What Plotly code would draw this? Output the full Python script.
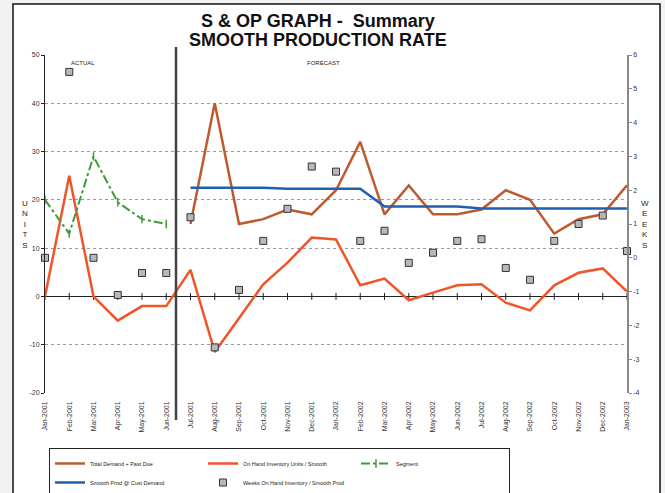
import plotly.graph_objects as go

months = ["Jan-2001", "Feb-2001", "Mar-2001", "Apr-2001", "May-2001", "Jun-2001",
          "Jul-2001", "Aug-2001", "Sep-2001", "Oct-2001", "Nov-2001", "Dec-2001",
          "Jan-2002", "Feb-2002", "Mar-2002", "Apr-2002", "May-2002", "Jun-2002",
          "Jul-2002", "Aug-2002", "Sep-2002", "Oct-2002", "Nov-2002", "Dec-2002",
          "Jan-2003"]

total_demand = [None, None, None, None, None, None,
                15, 40, 15, 16, 18, 17, 22, 32, 17, 23, 17, 17, 18, 22, 20, 13, 16, 17, 23]
smooth_prod = [None, None, None, None, None, None,
               22.5, 22.5, 22.5, 22.5, 22.3, 22.3, 22.3, 22.3, 18.6, 18.6, 18.6, 18.6,
               18.2, 18.2, 18.2, 18.2, 18.2, 18.2, 18.2]
on_hand = [0, 25, 0, -5, -2, -2, 5.5, -11.5, -4.5, 2.5, 7, 12.2, 11.8, 2.3, 3.7, -0.8,
           0.8, 2.3, 2.5, -1.3, -2.9, 2.3, 4.9, 5.8, 1.0]
segment = [20, 13, 29, 19.5, 16, 15] + [None] * 19
weeks = [0, 5.5, 0, -1.1, -0.45, -0.45, 1.2, -2.65, -0.95, 0.5, 1.45, 2.7, 2.55, 0.5,
         0.8, -0.15, 0.15, 0.5, 0.55, -0.3, -0.65, 0.5, 1.0, 1.25, 0.2]

left_ticks = [-20, -10, 0, 10, 20, 30, 40, 50]
left_labels = ["-20", "-10", "0", "10", "20", "30", "40", "50"]
right_ticks = [-4, -3, -2, -1, 0, 1, 2, 3, 4, 5, 6]
right_labels = ["-4", "-3", "-2", "-1", "0", "1", "2", "3", "4", "5", "6"]

FONT = "Liberation Sans, Arial, sans-serif"
BROWN = "#BE5A30"
ORANGE = "#F0552A"
BLUE = "#2060B0"
GREEN = "#3C9C3C"

fig = go.Figure()

# zero-line tick marks
fig.add_trace(go.Scatter(x=months, y=[0] * len(months), mode="markers",
                         marker=dict(symbol="line-ns", size=5, line=dict(color="#222", width=1)),
                         showlegend=False, hoverinfo="skip", cliponaxis=False))

fig.add_trace(go.Scatter(x=months, y=total_demand, mode="lines", name="Total Demand + Past Due",
                         line=dict(color=BROWN, width=2.5), legendrank=1, connectgaps=False))
fig.add_trace(go.Scatter(x=months, y=smooth_prod, mode="lines", name="Smooth Prod @ Cust Demand",
                         line=dict(color=BLUE, width=2.5), legendrank=4))
fig.add_trace(go.Scatter(x=months, y=on_hand, mode="lines", name="On Hand Inventory Units / Smooth",
                         line=dict(color=ORANGE, width=2.5), legendrank=2))
fig.add_trace(go.Scatter(x=months, y=segment, mode="lines+markers", name="Segment",
                         line=dict(color=GREEN, width=2, dash="dashdot"),
                         marker=dict(symbol="line-ns-open", size=6, color=GREEN,
                                     line=dict(color=GREEN, width=1.5)),
                         legendrank=3))
fig.add_trace(go.Scatter(x=months, y=weeks, mode="markers", name="Weeks On Hand Inventory / Smooth Prod",
                         yaxis="y2", cliponaxis=False,
                         marker=dict(symbol="square", size=7, color="#B8B8B8",
                                     line=dict(color="#333", width=1)),
                         legendrank=5))

# paper coordinate helpers (plot area: x 45..627, y 55..393)
def px(x):
    return (x - 45) / 582.0

def py(y):
    return (393 - y) / 338.0

shapes = [
    dict(type="rect", xref="paper", yref="paper", x0=px(13), x1=px(660), y0=py(520), y1=py(4),
         line=dict(color="#111", width=1.5), fillcolor="white", layer="below"),
    dict(type="line", xref="paper", yref="paper", x0=px(176), x1=px(176), y0=py(420), y1=py(47),
         line=dict(color="#444", width=2.5)),
]

annotations = [
    dict(text="<b>S & OP GRAPH -  Summary</b>",
         xref="paper", yref="paper", x=px(318), y=py(21), showarrow=False,
         font=dict(family=FONT, size=18, color="#111"), yanchor="middle"),
    dict(text="<b>SMOOTH PRODUCTION RATE</b>",
         xref="paper", yref="paper", x=px(318), y=py(40), showarrow=False,
         font=dict(family=FONT, size=18, color="#111"), yanchor="middle"),
    dict(text="ACTUAL", xref="x", yref="y", x=1.55, y=48.3, showarrow=False,
         font=dict(family=FONT, size=6, color="#222")),
    dict(text="FORECAST", xref="x", yref="y", x=11.5, y=48.3, showarrow=False,
         font=dict(family=FONT, size=6, color="#222")),
    dict(text="U<br>N<br>I<br>T<br>S", xref="paper", yref="paper", x=px(20), y=py(224),
         showarrow=False, font=dict(family=FONT, size=8, color="#222"), align="center"),
    dict(text="W<br>E<br>E<br>K<br>S", xref="paper", yref="paper", x=px(651), y=py(224),
         showarrow=False, font=dict(family=FONT, size=8, color="#222"), align="center"),
]

fig.update_layout(
    width=665, height=493,
    margin=dict(l=45, r=38, t=55, b=100, autoexpand=False),
    paper_bgcolor="#F2F2F2", plot_bgcolor="white",
    font=dict(family=FONT, size=7, color="#333"),
    shapes=shapes, annotations=annotations,
    showlegend=True,
    legend=dict(orientation="h", x=px(49), y=py(448), xanchor="left", yanchor="top",
                bordercolor="#222", borderwidth=1, bgcolor="white",
                font=dict(family=FONT, size=5.5, color="#222"),
                entrywidth=108, entrywidthmode="pixels", itemwidth=30,
                tracegroupgap=0),
    xaxis=dict(type="category", range=[0, 24], categoryorder="array", categoryarray=months,
               tickangle=-90, showgrid=False, showline=False, ticks="", zeroline=False,
               tickfont=dict(family=FONT, size=7, color="#333"), ticklabelstandoff=6),
    yaxis=dict(range=[-20, 50], tickvals=left_ticks, ticktext=left_labels, showgrid=True,
               gridcolor="#999", griddash="dot", gridwidth=1, zeroline=True,
               zerolinecolor="#222", zerolinewidth=1,
               showline=True, linecolor="#222", linewidth=1, ticks="outside", ticklen=3,
               tickcolor="#222", tickfont=dict(family=FONT, size=7, color="#333")),
    yaxis2=dict(range=[-4, 6], tickvals=right_ticks, ticktext=right_labels, overlaying="y",
                side="right", showgrid=False, zeroline=False, showline=True, linecolor="#888",
                linewidth=1.5, ticks="outside", ticklen=3, tickcolor="#888",
                tickfont=dict(family=FONT, size=7, color="#333")),
)

fig.write_html("out.html", config={"displayModeBar": False},
               post_script="document.body.style.margin='0';")
